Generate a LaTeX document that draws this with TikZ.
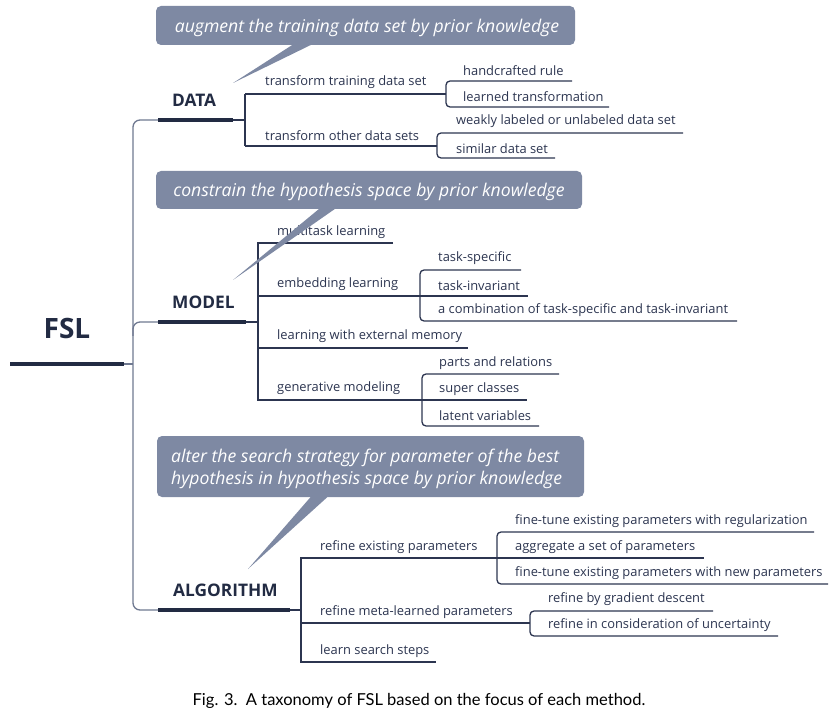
\documentclass[tikz,border=0pt]{standalone}
\usepackage{fontspec}
\setmainfont{Open Sans}
\newfontfamily\capfont{Lato}
\definecolor{ink}{HTML}{2C3550}
\definecolor{headink}{HTML}{222B43}
\definecolor{trunk}{HTML}{6F7991}
\definecolor{bubble}{HTML}{7E89A3}
\tikzset{
 leaf/.style={anchor=west, inner sep=0pt, yshift=-1.5pt, text=ink, font=\fontsize{12.9}{15}\selectfont},
 head/.style={anchor=west, inner sep=0pt, text=headink, font=\fontsize{17.3}{20}\selectfont\bfseries},
 bar/.style={draw=headink, line width=3.5pt},
 ln/.style={draw=ink, line width=1.3pt},
 rln/.style={ln, rounded corners=4pt},
 trunkln/.style={draw=trunk, line width=1.3pt, rounded corners=7pt},
 bubbletxt/.style={text=white, font=\fontsize{17.6}{22}\selectfont\itshape, inner sep=0pt, yshift=-2pt},
 bubblebox/.style={fill=bubble, rounded corners=5pt},
}
\begin{document}
\begin{tikzpicture}[x=1pt,y=-1pt]
\useasboundingbox (0,0) rectangle (839,714);

% ---------- root ----------
\node[inner sep=0pt, text=headink, font=\fontsize{28}{30}\selectfont\bfseries] (fsl) at (67,328) {FSL};
\coordinate (fslL) at (10,364);
\coordinate (fslR) at (124,364);
\coordinate (tj) at (133,364);
\draw[draw=headink, line width=4pt] (fslL) -- (fslR);
\draw[trunkln] (fslR) -- (tj);

% trunk
\coordinate (dataL) at (158,120);
\coordinate (modelL) at (158,322);
\coordinate (algL) at (158,610);
\coordinate (trunkTop) at (133,120);
\coordinate (trunkBot) at (133,610);
\coordinate (tm) at (133,336);
\draw[trunkln] (dataL) -- (trunkTop) -- (trunkBot) -- (algL);
\draw[trunkln] (tm) |- (modelL);

% ---------- DATA ----------
\node[head] (data) at (172,100) {DATA};
\coordinate (dataR) at (233,120);
\coordinate (dj) at (245,120);
\coordinate (dt) at (245,94);
\coordinate (db) at (245,146);
\draw[bar] (dataL) -- (dataR);
\draw[ln] (dataR) -- (dj);
\draw[ln] (dt) -- (db);
\node[leaf] (ttd) at (265,81) {transform training data set};
\node[leaf] (tod) at (265,134) {transform other data sets};

\coordinate (s1) at (446,94);
\coordinate (hrE) at (572,81);
\coordinate (ltE) at (609,107);
\draw[ln] (dt) -- (s1);
\draw[rln] (hrE) -| (s1) |- (ltE);
\node[leaf] (hr) at (463,69) {handcrafted rule};
\node[leaf] (lt) at (463,95) {learned transformation};

\coordinate (s2) at (437,146);
\coordinate (wlE) at (683,133);
\coordinate (sdE) at (555,158);
\draw[ln] (db) -- (s2);
\draw[rln] (wlE) -| (s2) |- (sdE);
\node[leaf] (wl) at (456,120) {weakly labeled or unlabeled data set};
\node[leaf] (sd) at (456,147) {similar data set};

% ---------- MODEL ----------
\node[head] (model) at (172,302) {MODEL};
\coordinate (modelR) at (246,322);
\coordinate (mj) at (258,322);
\coordinate (mt) at (258,243);
\coordinate (mbot) at (258,400);
\coordinate (mtE) at (393,243);
\coordinate (memb) at (258,296);
\coordinate (mmem) at (258,348);
\coordinate (memE) at (468,348);
\coordinate (s3) at (420,296);
\coordinate (s4) at (422,400);
\draw[bar] (modelL) -- (modelR);
\draw[ln] (modelR) -- (mj);
\draw[ln] (mtE) -- (mt) -- (mbot) -- (s4);
\draw[ln] (memb) -- (s3);
\draw[ln] (mmem) -- (memE);
\node[leaf] (mtl) at (277,231) {multitask learning};
\node[leaf] (eml) at (277,283) {embedding learning};
\node[leaf] (lem) at (277,335) {learning with external memory};
\node[leaf] (gen) at (277,387) {generative modeling};

\coordinate (tsE) at (521,270);
\coordinate (tiE) at (528,296);
\coordinate (ciE) at (737,321);
\draw[rln] (tsE) -| (s3) |- (ciE);
\draw[ln] (s3) -- (tiE);
\node[leaf] (ts) at (438,257) {task-specific};
\node[leaf] (ti) at (438,284) {task-invariant};
\node[leaf] (ci) at (438,309) {a combination of task-specific and task-invariant};

\coordinate (prE) at (559,374);
\coordinate (scE) at (527,400);
\coordinate (lvE) at (539,426);
\draw[rln] (prE) -| (s4) |- (lvE);
\draw[ln] (s4) -- (scE);
\node[leaf] (pr) at (439,362) {parts and relations};
\node[leaf] (sc) at (439,388) {super classes};
\node[leaf] (lv) at (439,414) {latent variables};

% ---------- ALGORITHM ----------
\node[head] (alg) at (173,590) {ALGORITHM};
\coordinate (algR) at (290,610);
\coordinate (aj) at (301,610);
\coordinate (at) at (301,558);
\coordinate (ab) at (301,662);
\coordinate (am) at (301,623);
\coordinate (lsE) at (436,662);
\coordinate (s5) at (497,558);
\coordinate (s6) at (530,623);
\draw[bar] (algL) -- (algR);
\draw[ln] (algR) -- (aj);
\draw[ln] (s5) -- (at) -- (ab) -- (lsE);
\draw[ln] (am) -- (s6);
\node[leaf] (rep) at (320,546) {refine existing parameters};
\node[leaf] (rmp) at (320,611) {refine meta-learned parameters};
\node[leaf] (lss) at (320,650) {learn search steps};

\coordinate (frE) at (814,532);
\coordinate (agE) at (704,558);
\coordinate (fnE) at (828,584);
\draw[rln] (frE) -| (s5) |- (fnE);
\draw[ln] (s5) -- (agE);
\node[leaf] (fr) at (515,520) {fine-tune existing parameters with regularization};
\node[leaf] (ag) at (515,546) {aggregate a set of parameters};
\node[leaf] (fn) at (515,572) {fine-tune existing parameters with new parameters};

\coordinate (gdE) at (713,611);
\coordinate (ucE) at (778,636);
\draw[rln] (gdE) -| (s6) |- (ucE);
\node[leaf] (gd) at (548,598) {refine by gradient descent};
\node[leaf] (uc) at (548,624) {refine in consideration of uncertainty};

% ---------- callouts ----------
\fill[bubblebox] (156,6) rectangle (575,45);
\fill[bubble] (300,40) -- (321,40) -- (233,83) -- cycle;
\node[bubbletxt] (c1) at (367,26) {augment the training data set by prior knowledge};

\fill[bubblebox] (156,171) rectangle (582,209);
\fill[bubble] (325,204) -- (342,204) -- (233,280) -- cycle;
\node[bubbletxt] (c2) at (369,189.5) {constrain the hypothesis space by prior knowledge};

\fill[bubblebox] (157,436) rectangle (584,497);
\fill[bubble] (315,492) -- (333,492) -- (248,569) -- cycle;
\node[bubbletxt, anchor=west, align=left] (c3) at (171,467) {alter the search strategy for parameter of the best\\hypothesis in hypothesis space by prior knowledge};

% ---------- caption ----------
\node[inner sep=0pt, text=black, font=\capfont\fontsize{16.5}{18}\selectfont] (cap) at (419,701) {Fig. 3.\ \ A taxonomy of FSL based on the focus of each method.};
\end{tikzpicture}
\end{document}
